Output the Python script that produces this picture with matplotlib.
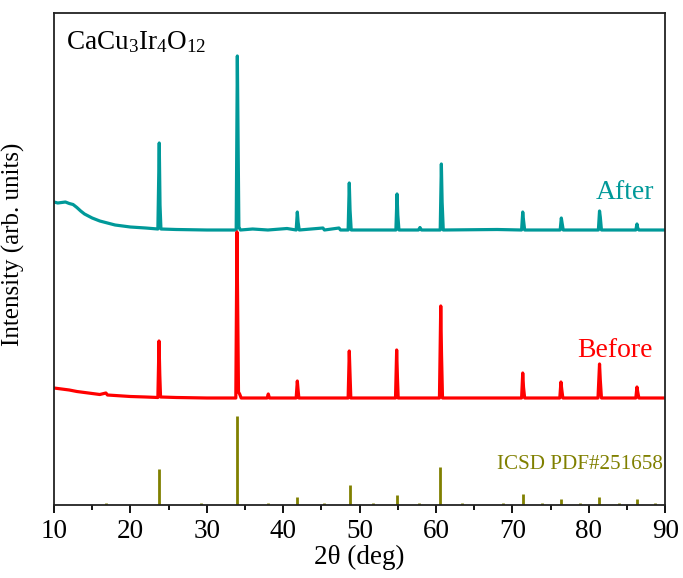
import matplotlib
matplotlib.use('Agg')
import matplotlib.pyplot as plt
from matplotlib.ticker import MultipleLocator

plt.rcParams['font.family'] = ['Liberation Serif', 'DejaVu Serif']
plt.rcParams['mathtext.default'] = 'regular'

# "After" pattern (teal), y in arbitrary units
after_x = [10, 10.5, 11, 11.5, 12, 12.5, 13, 13.5, 14, 15, 16, 17, 18, 20, 22, 23.6,
           23.78, 23.88, 24.0, 26, 30, 33.85, 34.0, 34.1, 34.2, 34.4, 36, 38, 40.5,
           41.7, 41.85, 41.95, 42.1, 45.2, 45.4, 47.3, 47.5, 48.5, 48.65, 48.75, 48.9,
           54.75, 54.9, 55.0, 55.15, 57.7, 57.9, 58.1, 60.55, 60.7, 60.8, 60.95, 68,
           71.2, 71.35, 71.45, 71.6, 76.25, 76.4, 76.5, 76.65, 81.25, 81.4, 81.5, 81.65,
           86.15, 86.3, 86.4, 86.55, 90]
after_y = [303, 302, 302.5, 303, 301.5, 300.5, 297.5, 294, 291, 287, 284, 282, 280, 278, 277, 276,
           362, 300, 276, 275.5, 275, 275, 449, 363, 278, 275, 276, 275, 276.5,
           275, 293, 283, 275, 277, 275, 277, 275, 275, 322, 295, 275,
           275, 311, 290, 275, 275, 277.5, 275, 275, 341, 303, 275, 275.5,
           275, 293, 285, 275, 275, 287, 282, 275, 275, 294, 288, 275,
           275, 281, 277, 275, 275]

# "Before" pattern (red)
before_x = [10, 11, 12, 13, 14, 15, 16, 16.8, 17, 18, 20, 22, 23.6, 23.75, 23.85, 23.95,
            26, 30, 33.8, 33.95, 34.05, 34.15, 34.3, 34.5, 36, 37.9, 38.05, 38.2,
            41.7, 41.85, 41.95, 42.05, 48.5, 48.65, 48.75, 48.85, 54.7, 54.85, 54.95, 55.05,
            60.45, 60.62, 60.72, 60.85, 71.2, 71.35, 71.45, 71.6, 76.2, 76.35, 76.45, 76.6,
            81.2, 81.4, 81.5, 81.65, 86.15, 86.3, 86.4, 86.55, 90]
before_y = [117, 116, 115, 113.5, 112.5, 111.5, 110.5, 112, 110, 109.5, 108.5, 108, 107.5, 164, 130, 108,
            107.5, 107, 107, 273, 193, 113, 111, 107, 107, 107, 111, 107,
            107, 124, 115, 107, 107, 154, 130, 107, 107, 155, 128, 107,
            107, 199, 151, 107, 107, 132, 118, 107, 107, 123, 116, 107,
            107, 141, 125, 107, 107, 118, 113, 107, 107]

# reference stick pattern
ref_x = [16.8, 23.75, 29.3, 33.9, 38.05, 41.85, 45.3, 48.7, 51.8, 54.9, 57.8, 60.56,
         63.4, 68.8, 71.35, 73.9, 76.35, 78.8, 81.35, 83.9, 86.25, 88.7]
ref_y = [1.5, 36, 1.5, 89, 1.5, 8, 2, 20, 1.5, 10, 1.5, 38,
         1.5, 1.5, 11, 1.5, 6, 1.5, 8, 1.5, 6, 1.5]

teal = '#009999'
red = '#ff0000'
olive = '#808000'

fig = plt.figure(figsize=(6.83, 5.78), dpi=100)
ax = fig.add_axes([0.079, 0.1263, 0.895, 0.8512])

ax.plot(after_x, after_y, color=teal, lw=2.3)
ax.plot(before_x, before_y, color=red, lw=2.3)
ax.vlines(ref_x, 0, ref_y, color=olive, lw=2)

ax.set_xlim(10, 90)
ax.set_ylim(0, 492)
ax.set_yticks([])
ax.xaxis.set_major_locator(MultipleLocator(10))
ax.xaxis.set_minor_locator(MultipleLocator(5))
ax.tick_params(axis='x', which='major', direction='out', length=6, width=1.3, labelsize=19.5, pad=4)
ax.tick_params(axis='x', which='minor', direction='out', length=3.5, width=1.3)
for s in ax.spines.values():
    s.set_linewidth(1.3)
    s.set_color('#222222')

ax.set_xlabel('2θ (deg)', fontsize=19.5, labelpad=1)
ax.set_ylabel('Intensity (arb. units)', fontsize=18)
ax.yaxis.set_label_coords(-0.047, 0.53)

ax.text(11.6, 463, r'CaCu$_3$Ir$_4$O$_{12}$', fontsize=19.5, ha='left', va='center')
ax.text(88.5, 313, 'After', fontsize=20, color=teal, ha='right', va='center')
ax.text(88.4, 155, 'Before', fontsize=20, color=red, ha='right', va='center')
ax.text(89.7, 40, 'ICSD PDF#251658', fontsize=15.2, color=olive, ha='right', va='center')

plt.savefig('out.png', dpi=100)
